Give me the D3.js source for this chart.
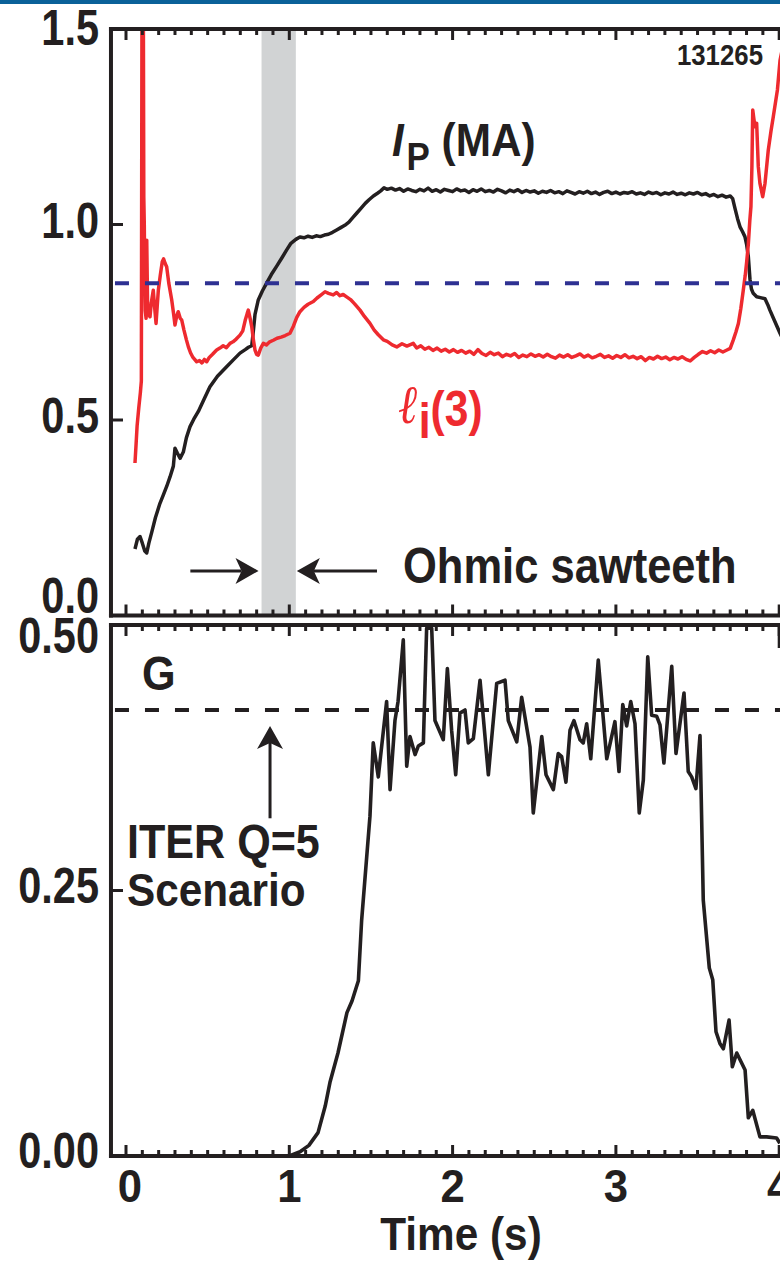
<!DOCTYPE html>
<html><head><meta charset="utf-8">
<script src="https://cdn.jsdelivr.net/npm/d3@7"></script>
<style>
body{margin:0;background:#fff}
text{font-family:"Liberation Sans",Arial,Helvetica,sans-serif;font-weight:bold;fill:#231f20}
</style></head>
<body><svg id="chart" width="780" height="1262"></svg>
<script>
// ---------------- DATA ----------------
const xMajorTicks = [0, 1, 2, 3, 4];
const xTickLabels = ["0", "1", "2", "3", "4"];
const topYTicks = [0, 0.5, 1.0, 1.5];
const topYTickLabels = ["0.0", "0.5", "1.0", "1.5"];
const botYTicks = [0, 0.25, 0.5];
const botYTickLabels = ["0.00", "0.25", "0.50"];
const sawtoothWindow = [0.83, 1.04];
const liReference = 0.85;      // blue dashed
const gIterQ5 = 0.42;          // black dashed
const shotNumber = "131265";

// plasma current Ip (MA): [time s, value]
const ipData = [
[0.055,0.170],[0.070,0.195],[0.086,0.202],[0.100,0.185],[0.115,0.165],[0.127,0.160],[0.140,0.185],[0.157,0.212],
[0.180,0.250],[0.208,0.287],[0.230,0.310],[0.249,0.330],[0.270,0.355],[0.290,0.382],[0.300,0.428],[0.315,0.415],
[0.331,0.402],[0.351,0.418],[0.370,0.455],[0.392,0.483],[0.415,0.502],[0.443,0.522],[0.480,0.555],[0.514,0.585],
[0.560,0.612],[0.616,0.636],[0.660,0.655],[0.698,0.671],[0.730,0.680],[0.750,0.686],[0.770,0.690],[0.778,0.720],
[0.790,0.770],[0.810,0.807],[0.835,0.830],[0.861,0.850],[0.890,0.872],[0.922,0.893],[0.955,0.915],[0.984,0.935],
[1.010,0.952],[1.040,0.962],[1.065,0.968],[1.090,0.966],[1.115,0.970],[1.140,0.967],[1.165,0.971],[1.190,0.969],
[1.215,0.973],[1.240,0.975],[1.265,0.980],[1.290,0.986],[1.315,0.992],[1.340,0.998],[1.365,1.006],[1.390,1.018],
[1.415,1.030],[1.440,1.042],[1.465,1.054],[1.490,1.064],[1.515,1.073],[1.540,1.080],[1.560,1.086],[1.580,1.094],
[1.600,1.090],[1.625,1.093],[1.650,1.088],[1.675,1.092],[1.700,1.085],[1.725,1.091],[1.750,1.087],[1.775,1.084],
[1.800,1.090],[1.825,1.086],[1.850,1.093],[1.875,1.085],[1.900,1.089],[1.925,1.083],[1.950,1.090],[1.975,1.087],
[2.000,1.084],[2.025,1.091],[2.050,1.086],[2.075,1.088],[2.100,1.082],[2.125,1.089],[2.150,1.085],[2.175,1.091],
[2.200,1.084],[2.225,1.087],[2.250,1.083],[2.275,1.090],[2.300,1.086],[2.325,1.081],[2.350,1.088],[2.375,1.084],
[2.400,1.089],[2.425,1.082],[2.450,1.087],[2.475,1.083],[2.500,1.086],[2.525,1.080],[2.550,1.085],[2.575,1.082],
[2.600,1.087],[2.625,1.081],[2.650,1.084],[2.675,1.079],[2.700,1.086],[2.725,1.082],[2.750,1.078],[2.775,1.084],
[2.800,1.080],[2.825,1.085],[2.850,1.079],[2.875,1.083],[2.900,1.077],[2.925,1.082],[2.950,1.085],[2.975,1.079],
[3.000,1.083],[3.025,1.078],[3.050,1.082],[3.075,1.080],[3.100,1.084],[3.125,1.078],[3.150,1.081],[3.175,1.077],
[3.200,1.083],[3.225,1.079],[3.250,1.082],[3.275,1.076],[3.300,1.081],[3.325,1.078],[3.350,1.083],[3.375,1.077],
[3.400,1.080],[3.425,1.076],[3.450,1.081],[3.475,1.078],[3.500,1.082],[3.525,1.076],[3.550,1.079],[3.575,1.073],
[3.600,1.077],[3.625,1.071],[3.650,1.075],[3.675,1.070],[3.700,1.073],[3.715,1.066],[3.730,1.040],[3.745,1.015],
[3.760,0.994],[3.775,0.982],[3.790,0.969],[3.800,0.950],[3.811,0.918],[3.821,0.860],[3.830,0.835],[3.841,0.824],
[3.862,0.815],[3.885,0.813],[3.913,0.810],[3.930,0.795],[3.943,0.781],[3.970,0.755],[4.005,0.722],[4.030,0.700]
];

// internal inductance li(3): [time s, value]
const liData = [
[0.055,0.390],[0.062,0.440],[0.068,0.485],[0.078,0.530],[0.088,0.570],[0.094,0.600],[0.098,1.600],[0.106,1.600],
[0.109,1.070],[0.112,1.000],[0.115,0.850],[0.118,0.780],[0.123,0.760],[0.127,0.960],[0.132,0.800],[0.138,0.770],
[0.147,0.764],[0.155,0.800],[0.167,0.832],[0.175,0.790],[0.184,0.747],[0.191,0.790],[0.198,0.832],[0.210,0.870],
[0.222,0.905],[0.230,0.912],[0.240,0.900],[0.249,0.892],[0.262,0.850],[0.280,0.807],[0.292,0.770],[0.300,0.743],
[0.310,0.765],[0.320,0.777],[0.332,0.760],[0.341,0.756],[0.355,0.730],[0.370,0.705],[0.382,0.687],[0.395,0.672],
[0.410,0.660],[0.433,0.649],[0.450,0.652],[0.465,0.646],[0.480,0.655],[0.494,0.649],[0.510,0.660],[0.530,0.668],
[0.555,0.679],[0.575,0.684],[0.595,0.690],[0.615,0.685],[0.637,0.696],[0.655,0.700],[0.675,0.707],[0.698,0.717],
[0.715,0.728],[0.730,0.755],[0.742,0.772],[0.749,0.781],[0.760,0.760],[0.770,0.739],[0.780,0.705],[0.790,0.679],
[0.800,0.668],[0.810,0.666],[0.825,0.684],[0.841,0.696],[0.860,0.692],[0.880,0.700],[0.902,0.704],[0.925,0.709],
[0.950,0.712],[0.975,0.716],[1.004,0.722],[1.025,0.740],[1.045,0.762],[1.065,0.777],[1.090,0.788],[1.115,0.796],
[1.147,0.803],[1.170,0.812],[1.195,0.820],[1.219,0.828],[1.240,0.824],[1.269,0.820],[1.290,0.826],[1.310,0.818],
[1.330,0.821],[1.351,0.815],[1.375,0.808],[1.400,0.797],[1.433,0.781],[1.460,0.765],[1.494,0.747],[1.520,0.730],
[1.545,0.718],[1.576,0.705],[1.600,0.701],[1.630,0.692],[1.658,0.687],[1.690,0.695],[1.720,0.689],[1.759,0.696],
[1.780,0.684],[1.805,0.690],[1.830,0.681],[1.855,0.686],[1.880,0.678],[1.905,0.684],[1.930,0.676],[1.955,0.681],
[1.980,0.674],[2.005,0.680],[2.030,0.673],[2.055,0.678],[2.080,0.671],[2.105,0.676],[2.130,0.668],[2.155,0.680],
[2.180,0.670],[2.205,0.665],[2.230,0.673],[2.255,0.667],[2.280,0.671],[2.305,0.662],[2.330,0.668],[2.355,0.664],
[2.380,0.670],[2.405,0.660],[2.430,0.666],[2.455,0.662],[2.480,0.669],[2.505,0.663],[2.530,0.667],[2.555,0.661],
[2.580,0.668],[2.605,0.662],[2.630,0.658],[2.655,0.666],[2.680,0.661],[2.705,0.667],[2.730,0.660],[2.755,0.664],
[2.780,0.669],[2.805,0.661],[2.830,0.666],[2.855,0.659],[2.880,0.663],[2.905,0.668],[2.930,0.660],[2.955,0.664],
[2.980,0.658],[3.005,0.665],[3.030,0.660],[3.055,0.667],[3.080,0.659],[3.105,0.663],[3.130,0.657],[3.155,0.662],
[3.180,0.652],[3.205,0.660],[3.230,0.656],[3.255,0.663],[3.280,0.657],[3.305,0.661],[3.330,0.654],[3.355,0.660],
[3.380,0.656],[3.405,0.662],[3.430,0.655],[3.455,0.651],[3.480,0.660],[3.505,0.668],[3.530,0.675],[3.555,0.671],
[3.580,0.677],[3.605,0.672],[3.630,0.679],[3.655,0.674],[3.680,0.679],[3.700,0.683],[3.719,0.705],[3.735,0.725],
[3.750,0.747],[3.765,0.785],[3.780,0.832],[3.792,0.870],[3.801,0.905],[3.811,0.950],[3.820,1.010],[3.827,1.046],
[3.833,1.150],[3.838,1.293],[3.845,1.270],[3.852,1.250],[3.862,1.259],[3.872,1.148],[3.882,1.105],[3.899,1.071],
[3.913,1.105],[3.933,1.190],[3.950,1.240],[3.964,1.276],[3.989,1.344],[4.005,1.420],[4.030,1.470]
];

// G figure of merit: [time s, value]
const gData = [
[0.000,0.000],[0.500,0.000],[1.000,0.000],[1.066,0.004],[1.120,0.010],[1.176,0.022],[1.220,0.047],[1.250,0.070],
[1.298,0.097],[1.353,0.135],[1.384,0.146],[1.423,0.165],[1.443,0.222],[1.494,0.320],[1.514,0.389],[1.545,0.357],
[1.596,0.428],[1.617,0.345],[1.647,0.410],[1.666,0.428],[1.698,0.486],[1.719,0.367],[1.739,0.395],[1.770,0.378],
[1.790,0.386],[1.821,0.389],[1.841,0.497],[1.872,0.497],[1.892,0.410],[1.943,0.392],[1.968,0.459],[1.994,0.401],
[2.019,0.359],[2.045,0.417],[2.076,0.420],[2.096,0.389],[2.127,0.393],[2.168,0.448],[2.219,0.359],[2.270,0.445],
[2.321,0.448],[2.341,0.410],[2.393,0.390],[2.423,0.432],[2.474,0.385],[2.494,0.323],[2.546,0.395],[2.572,0.359],
[2.617,0.345],[2.647,0.379],[2.668,0.376],[2.694,0.352],[2.719,0.401],[2.743,0.410],[2.780,0.392],[2.800,0.389],
[2.821,0.407],[2.846,0.374],[2.892,0.467],[2.944,0.374],[2.994,0.409],[3.019,0.362],[3.042,0.425],[3.066,0.405],
[3.091,0.428],[3.117,0.407],[3.143,0.323],[3.168,0.354],[3.195,0.470],[3.219,0.415],[3.250,0.414],[3.270,0.406],
[3.294,0.370],[3.342,0.461],[3.368,0.379],[3.417,0.436],[3.443,0.362],[3.464,0.357],[3.490,0.346],[3.515,0.396],
[3.535,0.241],[3.572,0.177],[3.593,0.166],[3.613,0.117],[3.637,0.106],[3.658,0.101],[3.693,0.128],[3.713,0.084],
[3.740,0.097],[3.791,0.081],[3.811,0.036],[3.838,0.043],[3.882,0.018],[3.923,0.018],[3.984,0.017],[4.004,0.012]
];

// ---------------- LAYOUT ----------------
const C = {ink:"#231f20", red:"#ee2a2f", blue:"#2e3192", band:"#d1d3d4", bar:"#0a6199"};
const svg = d3.select("#chart");
const x = d3.scaleLinear().domain([0, 4]).range([126, 779.2]);
const xMin = -0.092, xMax = 4.05;
const yTop = d3.scaleLinear().domain([0, 1.5]).range([615.5, 29]);
const yBot = d3.scaleLinear().domain([0, 0.5]).range([1156, 625]);

svg.append("rect").attr("x",0).attr("y",0).attr("width",780).attr("height",4).attr("fill",C.bar);

const defs = svg.append("defs");
function clip(id, y) {
  defs.append("clipPath").attr("id", id).append("rect")
    .attr("x", x(xMin)).attr("y", y.range()[1]).attr("width", x(xMax) - x(xMin))
    .attr("height", y.range()[0] - y.range()[1]);
}
clip("cTop", yTop); clip("cBot", yBot);

function txt(g, px, py, str, size, sx, anchor) {
  return g.append("text").attr("transform", `translate(${px},${py}) scale(${sx},1)`)
    .attr("text-anchor", anchor || "start").style("font-size", size + "px").text(str);
}

// ---- top panel ----
const topG = svg.append("g");
topG.append("rect").attr("x", x(sawtoothWindow[0])).attr("width", x(sawtoothWindow[1]) - x(sawtoothWindow[0]))
  .attr("y", yTop(1.5)).attr("height", yTop(0) - yTop(1.5)).attr("fill", C.band);

const lineTop = d3.line().x(d => x(d[0])).y(d => yTop(d[1]));
const lineBot = d3.line().x(d => x(d[0])).y(d => yBot(d[1]));
const curves = topG.append("g").attr("clip-path", "url(#cTop)");
curves.append("path").datum(ipData).attr("d", lineTop).attr("fill","none").attr("stroke",C.ink)
  .attr("stroke-width",3.5).attr("stroke-linejoin","round");
curves.append("path").datum(liData).attr("d", lineTop).attr("fill","none").attr("stroke",C.red)
  .attr("stroke-width",3.5).attr("stroke-linejoin","round");
topG.append("line").attr("x1", x(xMin)).attr("x2", x(xMax)).attr("y1", yTop(liReference)).attr("y2", yTop(liReference))
  .attr("stroke", C.blue).attr("stroke-width", 4).attr("stroke-dasharray", "14 16").attr("stroke-dashoffset", -4);

// ---- bottom panel ----
const botG = svg.append("g");
botG.append("line").attr("x1", x(xMin)).attr("x2", x(xMax)).attr("y1", yBot(gIterQ5)).attr("y2", yBot(gIterQ5))
  .attr("stroke", C.ink).attr("stroke-width", 4).attr("stroke-dasharray", "14 16").attr("stroke-dashoffset", -4);
botG.append("g").attr("clip-path", "url(#cBot)").append("path").datum(gData).attr("d", lineBot)
  .attr("fill","none").attr("stroke",C.ink).attr("stroke-width",3.6).attr("stroke-linejoin","round");

// ---- frames and ticks ----
const minorTicks = d3.range(0, 41).map(i => i / 10).filter(v => !xMajorTicks.includes(v));
function frame(y) {
  const g = svg.append("g");
  const y0 = y.range()[0], y1 = y.range()[1];
  [[y1, 1], [y0, -1]].forEach(([yy, dir]) => {
    g.selectAll(null).data(minorTicks).enter().append("line")
      .attr("x1", d => x(d)).attr("x2", d => x(d)).attr("y1", yy).attr("y2", yy + dir * 6)
      .attr("stroke", C.ink).attr("stroke-width", 3);
    g.selectAll(null).data(xMajorTicks).enter().append("line")
      .attr("x1", d => x(d)).attr("x2", d => x(d)).attr("y1", yy).attr("y2", yy + dir * 11)
      .attr("stroke", C.ink).attr("stroke-width", 3);
    g.append("line").attr("x1", x(xMin) - 2).attr("x2", x(xMax)).attr("y1", yy).attr("y2", yy)
      .attr("stroke", C.ink).attr("stroke-width", 4);
  });
  g.append("line").attr("x1", x(xMin)).attr("x2", x(xMin)).attr("y1", y1 - 2).attr("y2", y0 + 2)
    .attr("stroke", C.ink).attr("stroke-width", 4);
  return g;
}
const fTop = frame(yTop), fBot = frame(yBot);
fTop.selectAll(null).data(topYTicks).enter().append("line")
  .attr("x1", x(xMin)).attr("x2", x(xMin) + 12).attr("y1", d => yTop(d)).attr("y2", d => yTop(d))
  .attr("stroke", C.ink).attr("stroke-width", 3);
fBot.selectAll(null).data(botYTicks).enter().append("line")
  .attr("x1", x(xMin)).attr("x2", x(xMin) + 12).attr("y1", d => yBot(d)).attr("y2", d => yBot(d))
  .attr("stroke", C.ink).attr("stroke-width", 3);
fBot.append("line").attr("x1", x(4)).attr("x2", x(4)).attr("y1", yBot(0.5)).attr("y2", yBot(0.5) + 23)
  .attr("stroke", C.ink).attr("stroke-width", 3);

// tick labels
topYTicks.forEach((v, i) => {
  const py = Math.min(Math.max(yTop(v) + 13, yTop(1.5) + 16), yTop(0) - 2.5);
  txt(svg, 99, py, topYTickLabels[i], 50, 0.83, "end");
});
botYTicks.forEach((v, i) => {
  const py = Math.max(yBot(v) + 12, yBot(0.5) + 28);
  txt(svg, 99, py, botYTickLabels[i], 50, 0.83, "end");
});
xMajorTicks.forEach((v, i) => txt(svg, x(v) + (i === 0 ? 4 : 0), 1202, xTickLabels[i], 46, 0.95, "middle"));
txt(svg, 461, 1250, "Time (s)", 46, 0.92, "middle");

// ---- annotations ----
txt(svg, 763, 65, shotNumber, 30, 0.86, "end");

const ip = svg.append("text").attr("transform", "translate(392,156) scale(0.92,1)").style("font-size", "46px");
ip.append("tspan").style("font-style", "italic").text("I");
ip.append("tspan").attr("dx", 3).attr("dy", 14).style("font-size", "38px").text("P");
ip.append("tspan").attr("dy", -14).text(" (MA)");

const li = svg.append("text").attr("transform", "translate(398,423) scale(0.85,1)").style("font-size", "50px").style("fill", C.red);
li.append("tspan").style("font-family", "'Liberation Serif','DejaVu Serif',serif").style("font-style", "italic")
  .style("font-weight", "normal").style("font-size", "54px").style("fill", C.red).text("ℓ");
li.append("tspan").attr("dx", 2).attr("dy", 15).style("fill", C.red).text("i");
li.append("tspan").attr("dy", -12).style("fill", C.red).text("(3)");

txt(svg, 403, 583, "Ohmic sawteeth", 50, 0.87, "start");

function arrow(g, x1, y1, x2, y2) {
  const ang = Math.atan2(y2 - y1, x2 - x1), L = 23, W = 13, N = 17;
  const bx = x2 - L * Math.cos(ang), by = y2 - L * Math.sin(ang);
  const nx = x2 - N * Math.cos(ang), ny = y2 - N * Math.sin(ang);
  const px = -Math.sin(ang) * W, py = Math.cos(ang) * W;
  g.append("line").attr("x1", x1).attr("y1", y1).attr("x2", nx).attr("y2", ny).attr("stroke", C.ink).attr("stroke-width", 3);
  g.append("path").attr("d", `M${x2},${y2}L${bx + px},${by + py}L${nx},${ny}L${bx - px},${by - py}Z`).attr("fill", C.ink);
}
const ay = yTop(0.114);
arrow(svg, x(0.394), ay, x(sawtoothWindow[0]) - 3, ay);
arrow(svg, x(1.537), ay, x(sawtoothWindow[1]) + 1, ay);

txt(svg, 142, 690, "G", 48, 0.9, "start");
arrow(svg, x(0.882), yBot(0.318), x(0.882), yBot(0.405));
txt(svg, 127, 858, "ITER Q=5", 49, 0.88, "start");
txt(svg, 127, 906, "Scenario", 47, 0.9, "start");
</script></body></html>
